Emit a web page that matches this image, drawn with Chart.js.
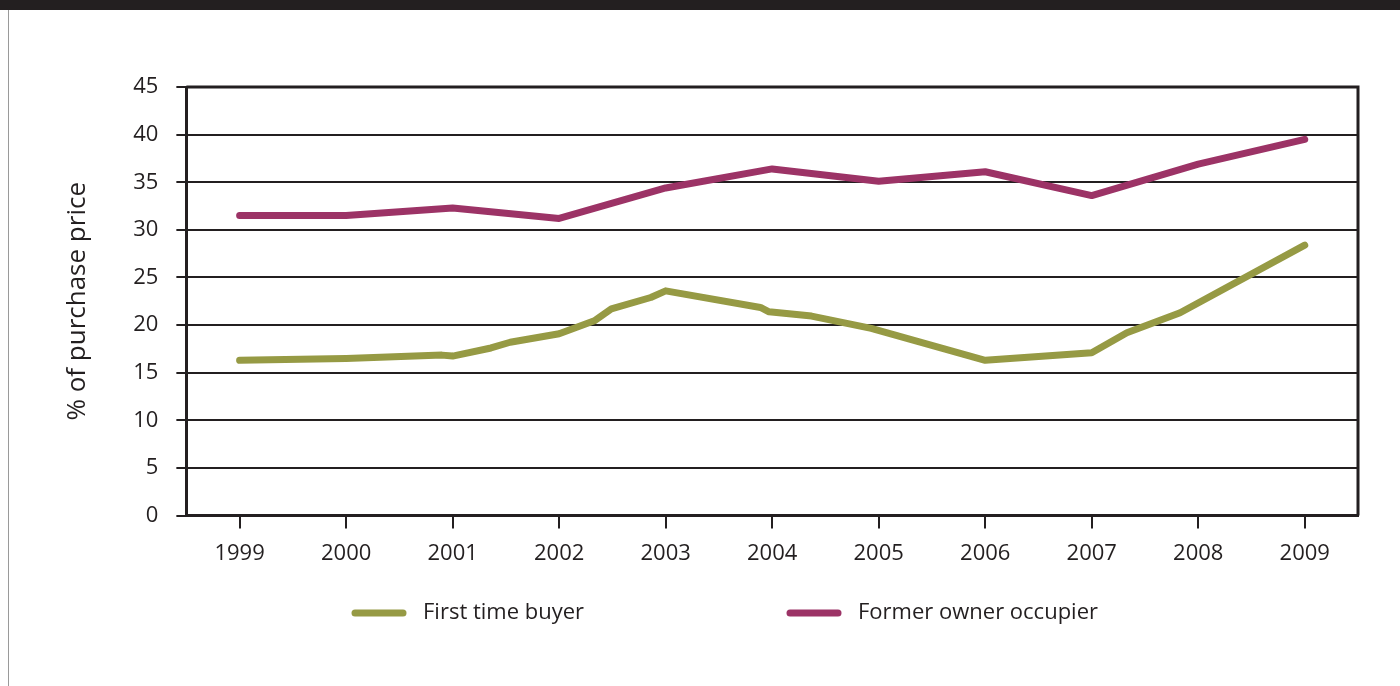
<!DOCTYPE html>
<html>
<head>
<meta charset="utf-8">
<script src="https://cdn.jsdelivr.net/npm/chart.js@4/dist/chart.umd.min.js"></script>
<style>
  html, body { margin: 0; padding: 0; background: #fff; }
  #band { position: absolute; left: 0; top: 0; width: 1400px; height: 10px; background: #231f20; }
  #edge { position: absolute; left: 8px; top: 10px; width: 1px; height: 676px; background: #9a9a9a; }
  #wrap { position: absolute; left: 0; top: 0; width: 1400px; height: 686px; }
</style>
</head>
<body>
<div id="band"></div>
<div id="edge"></div>
<div id="wrap"><canvas id="depositChart"></canvas></div>
<script>
// Deposit as a share of purchase price, by buyer type

const years = [1999, 2000, 2001, 2002, 2003, 2004, 2005, 2006, 2007, 2008, 2009];
const yTicks = [0, 5, 10, 15, 20, 25, 30, 35, 40, 45];

const firstTimeYears = [1999, 2000, 2000.9, 2001, 2001.36, 2001.54, 2002, 2002.33, 2002.49, 2002.86, 2003,
    2003.89, 2003.97, 2004.37, 2004.93, 2006, 2007, 2007.33, 2007.83, 2009];
const firstTimeValues = [16.3, 16.5, 16.85, 16.75, 17.6, 18.2, 19.1, 20.45, 21.7, 22.9, 23.6,
    21.85, 21.4, 20.95, 19.65, 16.3, 17.1, 19.2, 21.3, 28.4];

const formerOwnerYears = [1999, 2000, 2001, 2002, 2003, 2004, 2005, 2006, 2007, 2008, 2009];
const formerOwnerValues = [31.5, 31.5, 32.3, 31.2, 34.4, 36.4, 35.1, 36.1, 33.6, 36.9, 39.5];

const seriesLabels = ["First time buyer", "Former owner occupier"];
const seriesColors = ["#969a44", "#9c3366"];

const ink = "#231f20";
const fontFamily = "'Open Sans', 'Noto Sans', sans-serif";

function points(xs, ys) {
    return xs.map((x, i) => ({ x: x, y: ys[i] }));
}

// top and right sides of the plot frame
const frame = {
    id: "frame",
    afterDraw(chart) {
        const a = chart.chartArea;
        const ctx = chart.ctx;
        ctx.save();
        ctx.strokeStyle = ink;
        ctx.lineWidth = 3;
        ctx.beginPath();
        ctx.moveTo(a.left, a.top);
        ctx.lineTo(a.right, a.top);
        ctx.lineTo(a.right, a.bottom);
        ctx.stroke();
        ctx.restore();
    }
};

// legend below the axis, one line sample per series
const legendX = [352, 787];
const legendY = 613;
const bottomLegend = {
    id: "bottomLegend",
    afterDraw(chart) {
        const ctx = chart.ctx;
        ctx.save();
        chart.data.datasets.forEach((ds, i) => {
            const x = legendX[i];
            ctx.strokeStyle = ds.borderColor;
            ctx.lineWidth = 7;
            ctx.lineCap = "round";
            ctx.beginPath();
            ctx.moveTo(x + 3, legendY);
            ctx.lineTo(x + 51, legendY);
            ctx.stroke();
            ctx.fillStyle = ink;
            ctx.font = "22px " + fontFamily;
            ctx.textBaseline = "middle";
            ctx.fillText(ds.label, x + 71, legendY);
        });
        ctx.restore();
    }
};

new Chart(document.getElementById("depositChart"), {
    type: "line",
    data: {
        datasets: [
            {
                label: seriesLabels[0],
                data: points(firstTimeYears, firstTimeValues),
                borderColor: seriesColors[0],
                borderWidth: 7,
                borderCapStyle: "round",
                borderJoinStyle: "round",
                pointRadius: 0,
                tension: 0
            },
            {
                label: seriesLabels[1],
                data: points(formerOwnerYears, formerOwnerValues),
                borderColor: seriesColors[1],
                borderWidth: 7,
                borderCapStyle: "round",
                borderJoinStyle: "round",
                pointRadius: 0,
                tension: 0
            }
        ]
    },
    options: {
        responsive: true,
        maintainAspectRatio: false,
        animation: false,
        layout: { padding: { left: 62, right: 42, top: 87, bottom: 107 } },
        plugins: {
            legend: { display: false },
            tooltip: { enabled: false }
        },
        scales: {
            x: {
                type: "linear",
                min: 1998.5,
                max: 2009.5,
                afterBuildTicks: axis => { axis.ticks = years.map(v => ({ value: v })); },
                grid: { drawOnChartArea: false, drawTicks: true, tickLength: 13, color: ink, lineWidth: 2 },
                border: { display: true, color: ink, width: 3 },
                ticks: {
                    color: ink,
                    padding: 12,
                    font: { family: fontFamily, size: 22 },
                    callback: v => String(v),
                    maxRotation: 0
                }
            },
            y: {
                min: 0,
                max: 45,
                afterBuildTicks: axis => { axis.ticks = yTicks.map(v => ({ value: v })); },
                grid: { drawTicks: true, tickLength: 10, color: ink, lineWidth: 2 },
                border: { display: true, color: ink, width: 3 },
                ticks: {
                    color: ink,
                    padding: 18,
                    font: { family: fontFamily, size: 22 }
                },
                title: {
                    display: true,
                    text: "% of purchase price",
                    color: ink,
                    font: { family: fontFamily, size: 26 },
                    padding: { top: 0, bottom: 22 }
                }
            }
        }
    },
    plugins: [frame, bottomLegend]
});
</script>
</body>
</html>
